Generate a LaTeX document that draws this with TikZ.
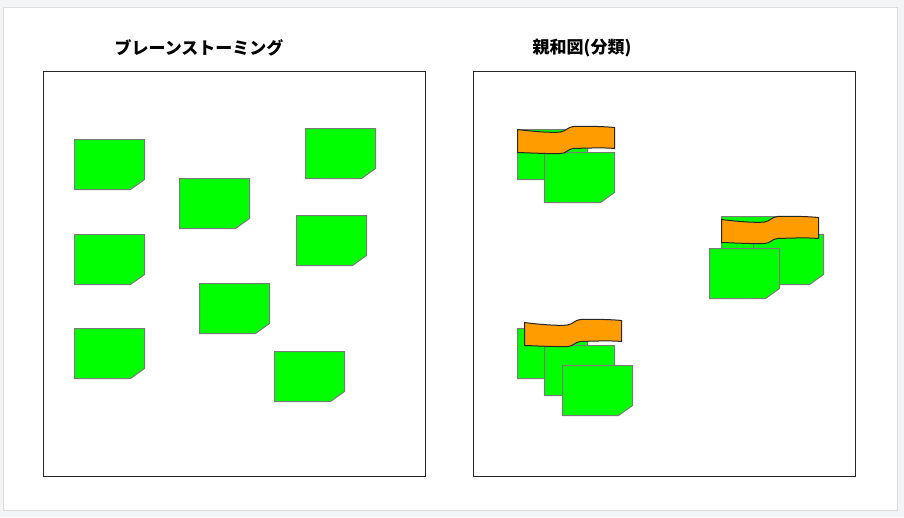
\documentclass[tikz,border=0pt]{standalone}
\usepackage{fontspec}
\newfontfamily\jp{Noto Sans CJK JP}
\begin{document}
\begin{tikzpicture}[x=1pt,y=-1pt,
  notestyle/.style={fill=notegreen,draw=notegray,line width=1pt,line join=miter},
  bannerstyle/.style={fill=bannerorange,draw=black!85,line width=1pt},
  framestyle/.style={draw=black!85,line width=1pt,fill=white},
  titlestyle/.style={font=\jp\bfseries\fontsize{17}{20}\selectfont,inner sep=0pt,anchor=center},
  pics/sticky/.style={code={
    \path[notestyle] (0,0) -- (70,0) -- (70,40) -- (56,50) -- (0,50) -- cycle;}},
  pics/banner/.style={code={
    \path[bannerstyle] (0,3) .. controls (15,5) and (35,6.5) .. (43,5.5)
      .. controls (49,4.5) and (50,0.5) .. (56,0)
      .. controls (70,-0.5) and (88,0) .. (97,1) -- (97,22)
      .. controls (88,21) and (70,21.5) .. (56,22)
      .. controls (50,22.5) and (49,27) .. (43,27)
      .. controls (35,27.5) and (15,26.5) .. (0,26) -- cycle;}}
]
\definecolor{notegreen}{HTML}{00FF00}
\definecolor{notegray}{HTML}{7A7A7A}
\definecolor{bannerorange}{HTML}{FF9C00}
\definecolor{pagegray}{HTML}{F3F4F6}
\definecolor{edgegray}{HTML}{DCDCDC}
\useasboundingbox (0,0) rectangle (904,517);
\fill[pagegray] (0,0) rectangle (904,517);
\path[fill=white,draw=edgegray,line width=1pt] (3.5,7.5) rectangle (897.5,510.5);
% titles
\node[titlestyle] (t1) at (199,48) {ブレーンストーミング};
\node[titlestyle] (t2) at (582,48) {親和図(分類)};
% frames
\path[framestyle] (43.5,71.5) rectangle (425.5,476.5);
\path[framestyle] (473.5,71.5) rectangle (855.5,476.5);
% left panel notes
\pic at (74.5,139.5) {sticky};
\pic at (179.5,178.5) {sticky};
\pic at (305.5,128.5) {sticky};
\pic at (74.5,234.5) {sticky};
\pic at (296.5,215.5) {sticky};
\pic at (199.5,283.5) {sticky};
\pic at (74.5,328.5) {sticky};
\pic at (274.5,351.5) {sticky};
% right panel group 1
\pic at (517.5,129.5) {sticky};
\pic at (544.5,152.5) {sticky};
\pic at (517.5,126.5) {banner};
% group 2
\pic at (721.5,216.5) {sticky};
\pic at (753.5,234.5) {sticky};
\pic at (709.5,248.5) {sticky};
\pic at (721.5,216.5) {banner};
% group 3
\pic at (517.5,328.5) {sticky};
\pic at (544.5,345.5) {sticky};
\pic at (562.5,365.5) {sticky};
\pic at (524.5,319.5) {banner};
\end{tikzpicture}
\end{document}
